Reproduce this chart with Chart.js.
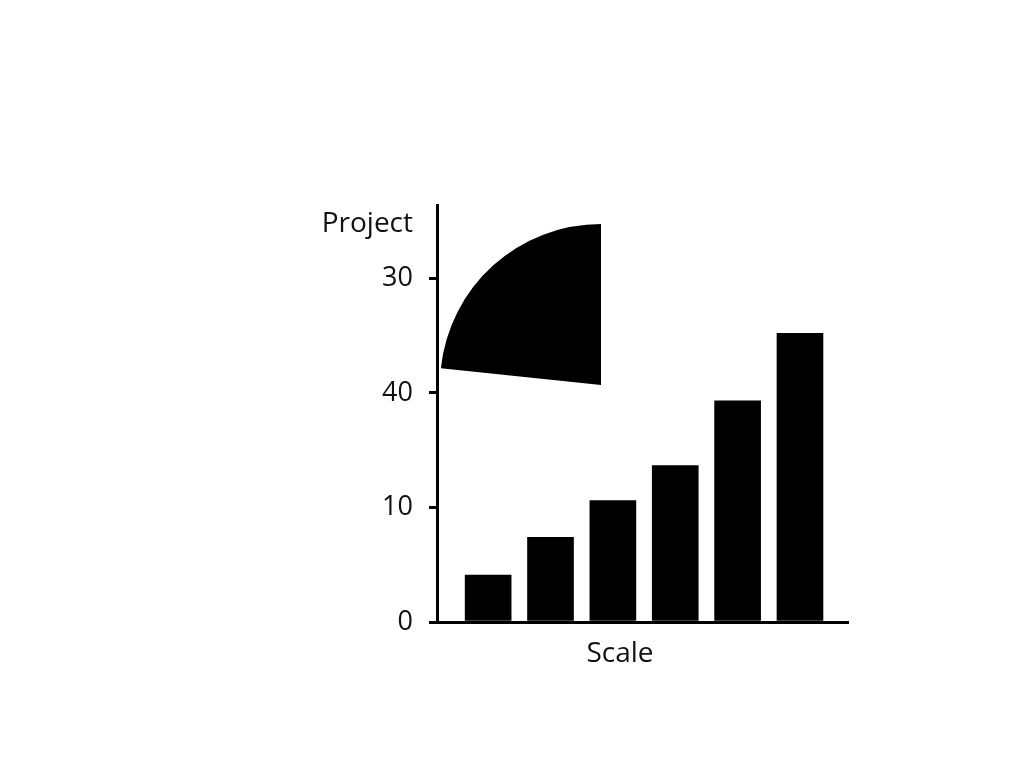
<!DOCTYPE html>
<html>
<head>
<meta charset="utf-8">
<script src="https://cdn.jsdelivr.net/npm/chart.js@4/dist/chart.umd.min.js"></script>
<style>
    html, body { margin: 0; padding: 0; background: #fff; }
    #wrap { position: relative; width: 1024px; height: 768px; }
    #barChart { position: absolute; left: 0; top: 0; }
    #wedgeChart { position: absolute; left: 431px; top: 215px; }
</style>
</head>
<body>
<div id="wrap">
    <canvas id="barChart" width="1024" height="768"></canvas>
    <canvas id="wedgeChart" width="340" height="340"></canvas>
</div>
<script>
// ================================================
// BAR + WEDGE CHART
// ================================================

// Data
const categories = ['1', '2', '3', '4', '5', '6'];
const barValues = [4.1, 7.4, 10.6, 13.65, 19.3, 25.2];
const yTickValues = [0, 10, 20, 30];
const yTickLabels = ['0', '10', '40', '30'];
const yTitle = 'Project';
const xTitle = 'Scale';

// Wedge: black slice + empty remainder (degrees)
const wedgeValues = [84, 276];
const wedgeColors = ['#000000', 'rgba(0,0,0,0)'];

const FONT = '"Open Sans", "DejaVu Sans", sans-serif';
const INK = '#111111';

// Horizontal axis titles drawn next to the axes
const axisTitles = {
    id: 'axisTitles',
    afterDraw(chart) {
        const ctx = chart.ctx;
        const area = chart.chartArea;
        const y = chart.scales.y;
        ctx.save();
        ctx.fillStyle = INK;
        ctx.font = '28px ' + FONT;
        ctx.textBaseline = 'alphabetic';
        // y title, right aligned with the tick labels
        ctx.textAlign = 'right';
        ctx.fillText(yTitle, y.right - 8 - 16, area.top + 27);
        // x title under the axis
        ctx.textAlign = 'center';
        ctx.fillText(xTitle, area.left + 183, area.bottom + 40);
        ctx.restore();
    }
};

function initBarChart() {
    const ctx = document.getElementById('barChart');

    new Chart(ctx, {
        type: 'bar',
        data: {
            labels: categories,
            datasets: [{
                data: barValues.map((v, i) => ({ x: i, y: v })),
                backgroundColor: '#000000',
                borderWidth: 0,
                barThickness: 46
            }]
        },
        options: {
            responsive: false,
            animation: false,
            devicePixelRatio: 1,
            layout: {
                padding: { left: 0, right: 176, top: 205, bottom: 146 }
            },
            plugins: {
                legend: { display: false },
                tooltip: { enabled: false },
                title: { display: false }
            },
            scales: {
                x: {
                    type: 'linear',
                    offset: false,
                    min: -0.82,
                    max: 5.77,
                    grid: { display: false },
                    ticks: { display: false },
                    border: { display: true, color: '#000000', width: 3 },
                    afterFit: function(scale) {
                        scale.height = 0;
                    }
                },
                y: {
                    min: 0,
                    max: 36.4,
                    grid: {
                        drawOnChartArea: false,
                        drawTicks: true,
                        tickLength: 8,
                        color: '#000000',
                        lineWidth: 3
                    },
                    border: { display: true, color: '#000000', width: 3 },
                    ticks: {
                        stepSize: 10,
                        includeBounds: false,
                        padding: 16,
                        color: INK,
                        font: { family: FONT, size: 27 },
                        callback: function(value) {
                            const idx = yTickValues.indexOf(value);
                            return idx >= 0 ? yTickLabels[idx] : '';
                        }
                    },
                    afterFit: function(scale) {
                        scale.width = 437;
                    }
                }
            }
        },
        plugins: [axisTitles]
    });
}

function initWedgeChart() {
    const ctx = document.getElementById('wedgeChart');

    new Chart(ctx, {
        type: 'pie',
        data: {
            labels: ['slice', 'rest'],
            datasets: [{
                data: wedgeValues,
                backgroundColor: wedgeColors,
                borderWidth: 0,
                hoverOffset: 0
            }]
        },
        options: {
            responsive: false,
            animation: false,
            devicePixelRatio: 1,
            rotation: 276,
            radius: 161,
            layout: { padding: 0 },
            plugins: {
                legend: { display: false },
                tooltip: { enabled: false }
            }
        }
    });
}

initBarChart();
initWedgeChart();
</script>
</body>
</html>
